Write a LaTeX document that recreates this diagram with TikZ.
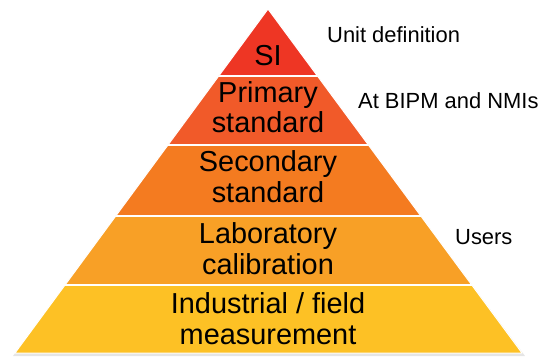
\documentclass[tikz,border=0pt]{standalone}
\usepackage{fontspec}
\setmainfont{Liberation Sans}
\begin{document}
\definecolor{siRed}{RGB}{238,54,36}
\definecolor{primOrange}{RGB}{241,90,41}
\definecolor{secOrange}{RGB}{244,123,32}
\definecolor{labOrange}{RGB}{248,160,38}
\definecolor{indYellow}{RGB}{253,193,37}
\begin{tikzpicture}[x=1bp,y=-1bp,
  bandtext/.style={font=\fontsize{29}{31}\selectfont, align=center, anchor=base, inner sep=0pt},
  sidetext/.style={font=\fontsize{22}{24}\selectfont, anchor=base west, inner sep=0pt},
  gapline/.style={white, line width=2bp}]
\useasboundingbox (0,0) rectangle (541,361);
% pyramid corners
\coordinate (apex) at (268,9);
\coordinate (bl) at (15,353);
\coordinate (br) at (522,353);
% soft shadow under the pyramid
\fill[black!10] (268,11) -- (525,356) -- (13,356) -- cycle;
\begin{scope}
  \clip (apex) -- (br) -- (bl) -- cycle;
  \fill[siRed]      (0,0)   rectangle (541,76);
  \fill[primOrange] (0,76)  rectangle (541,145);
  \fill[secOrange]  (0,145) rectangle (541,216);
  \fill[labOrange]  (0,216) rectangle (541,285);
  \fill[indYellow]  (0,285) rectangle (541,360);
  \draw[gapline] (0,76) -- (541,76);
  \draw[gapline] (0,145) -- (541,145);
  \draw[gapline] (0,216) -- (541,216);
  \draw[gapline] (0,285) -- (541,285);
\end{scope}
\draw[white, line width=1bp, line join=round] (apex) -- (br) -- (bl) -- cycle;
% level labels
\node[bandtext] (si) at (268,65) {SI};
\node[bandtext] (prim1) at (268,102) {Primary};
\node[bandtext] (prim2) at (268,132) {standard};
\node[bandtext] (sec1) at (268,171) {Secondary};
\node[bandtext] (sec2) at (268,202) {standard};
\node[bandtext] (lab1) at (268,243) {Laboratory};
\node[bandtext] (lab2) at (268,274) {calibration};
\node[bandtext] (ind1) at (268,313) {Industrial / field};
\node[bandtext] (ind2) at (268,344) {measurement};
% side annotations
\node[sidetext] (unitdef) at (327,42) {Unit definition};
\node[sidetext] (bipm) at (358,108) {At BIPM and NMIs};
\node[sidetext] (users) at (455,244) {Users};
\end{tikzpicture}
\end{document}
